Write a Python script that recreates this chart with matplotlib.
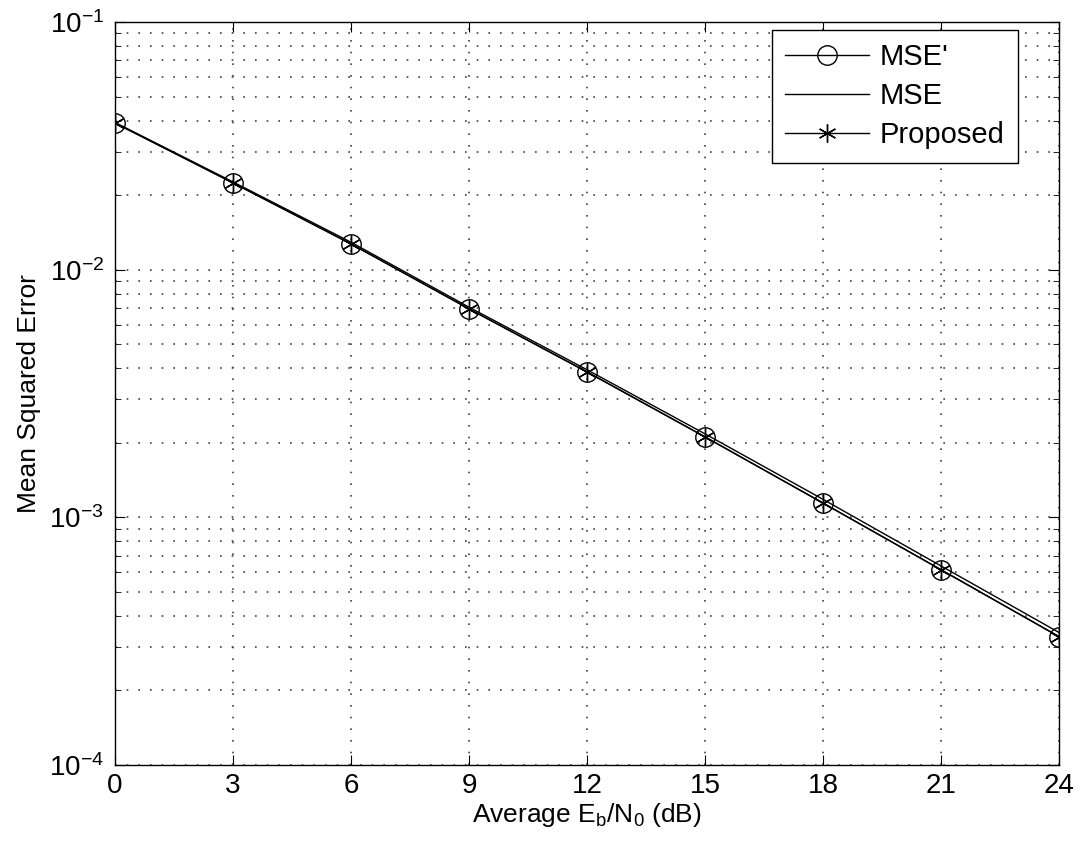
import numpy as np
import matplotlib.pyplot as plt

plt.rcParams['font.family'] = ['Liberation Sans', 'DejaVu Sans']

# data
snr = [0, 3, 6, 9, 12, 15, 18, 21, 24]
mse_prime = [0.0391, 0.0224, 0.0127, 0.00694, 0.00386, 0.00211, 0.00114, 0.000613, 0.000329]
mse = [0.0393, 0.0226, 0.0129, 0.00705, 0.00394, 0.00217, 0.00118, 0.000635, 0.000342]
proposed = [0.0391, 0.0224, 0.0127, 0.00694, 0.00386, 0.00211, 0.00114, 0.000613, 0.000329]

fig = plt.figure(figsize=(10.8, 8.47), dpi=100)
ax = fig.add_axes([0.1065, 0.0968, 0.8745, 0.8772])

ax.semilogy(snr, mse_prime, 'k-', marker='o', markersize=14, markerfacecolor='none',
            markeredgewidth=1.0, linewidth=1.0, label="MSE'")
ax.semilogy(snr, mse, 'k-', linewidth=1.0, label='MSE')
ax.semilogy(snr, proposed, 'k-', marker=(6, 2, 0), markersize=13,
            markeredgewidth=1.0, linewidth=1.0, label='Proposed')

ax.set_xlim(0, 24)
ax.set_ylim(1e-4, 1e-1)
ax.set_xticks(snr)
ax.grid(True, which='both', linestyle=(0, (1, 6)), color='0.25', linewidth=1.2)
ax.tick_params(which='both', direction='in', top=True, right=True, labelsize=20)
ax.tick_params(which='major', length=7)
ax.tick_params(which='minor', length=4)
ax.tick_params(axis='x', pad=6)
ax.tick_params(axis='y', pad=8)
for s in ax.spines.values():
    s.set_linewidth(1.0)

ax.set_xlabel('Average E$_\\mathregular{b}$/N$_\\mathregular{0}$ (dB)', fontsize=19, labelpad=1)
ax.set_ylabel('Mean Squared Error', fontsize=19, labelpad=6)

leg = ax.legend(loc='upper right', bbox_to_anchor=(0.9556, 0.989), borderaxespad=0,
                fontsize=21, fancybox=False, edgecolor='k', framealpha=1,
                handlelength=2.9, labelspacing=0.38, handletextpad=0.35,
                borderpad=0.45)
leg.get_frame().set_linewidth(1.0)

plt.savefig('out.png', dpi=100)
